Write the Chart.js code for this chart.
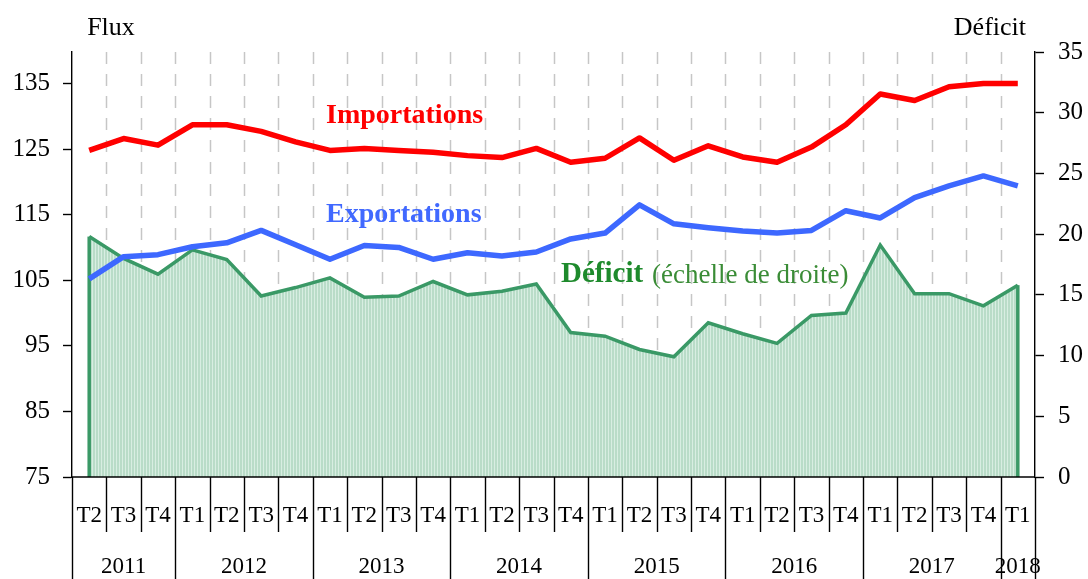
<!DOCTYPE html>
<html>
<head>
<meta charset="utf-8">
<title>Flux et déficit</title>
<script src="https://cdn.jsdelivr.net/npm/chart.js@4.4.1/dist/chart.umd.min.js"></script>
<style>
  html, body { margin: 0; padding: 0; background: #fff; }
  #wrap { width: 1088px; height: 579px; position: relative; }
</style>
</head>
<body>
<div id="wrap"><canvas id="fluxChart"></canvas></div>
<script>
// quarters from T2 2011 to T1 2018
const quarterLabels = ['T2','T3','T4','T1','T2','T3','T4','T1','T2','T3','T4','T1','T2','T3','T4',
                       'T1','T2','T3','T4','T1','T2','T3','T4','T1','T2','T3','T4','T1'];
const yearLabels = ['2011','2012','2013','2014','2015','2016','2017','2018'];
const quartersPerYear = [3, 4, 4, 4, 4, 4, 4, 1];

const importations = [124.8, 126.6, 125.6, 128.7, 128.7, 127.7, 126.1, 124.8, 125.1, 124.8, 124.5, 124.0, 123.7, 125.1,
                      123.0, 123.6, 126.7, 123.3, 125.5, 123.8, 123.0, 125.3, 128.7, 133.4, 132.4, 134.5, 135.0, 135.0];
const exportations = [105.2, 108.6, 108.9, 110.1, 110.7, 112.6, 110.4, 108.2, 110.3, 110.0, 108.2, 109.2, 108.7, 109.3,
                      111.3, 112.2, 116.5, 113.6, 113.0, 112.5, 112.2, 112.6, 115.6, 114.5, 117.6, 119.4, 120.9, 119.4];
const deficit = [19.8, 18.0, 16.7, 18.7, 17.9, 14.9, 15.6, 16.4, 14.8, 14.9, 16.1, 15.0, 15.3, 15.9,
                 11.9, 11.6, 10.5, 9.9, 12.7, 11.8, 11.0, 13.3, 13.5, 19.1, 15.1, 15.1, 14.1, 15.8];

const fluxTicks = [75, 85, 95, 105, 115, 125, 135];
const deficitTicks = [0, 5, 10, 15, 20, 25, 30, 35];

const serif = "'Liberation Serif', 'Times New Roman', serif";

const canvas = document.getElementById('fluxChart');
const ctx = canvas.getContext('2d');

// striped light green fill like the original area
function stripedFill() {
    const c = document.createElement('canvas');
    c.width = 3; c.height = 4;
    const g = c.getContext('2d');
    g.fillStyle = '#b9dcc8';
    g.fillRect(0, 0, 3, 4);
    g.fillStyle = '#d8eee2';
    g.fillRect(2, 0, 1, 4);
    return ctx.createPattern(c, 'repeat');
}

function line(c, x1, y1, x2, y2) {
    c.beginPath();
    c.moveTo(x1, y1);
    c.lineTo(x2, y2);
    c.stroke();
}

const decorPlugin = {
    id: 'decor',
    beforeDatasetsDraw(chart) {
        // dashed separators between quarters
        const { ctx, chartArea, scales: { x } } = chart;
        const half = (x.getPixelForValue(1) - x.getPixelForValue(0)) / 2;
        ctx.save();
        ctx.strokeStyle = '#c6c6c6';
        ctx.lineWidth = 1.5;
        ctx.setLineDash([12, 10]);
        for (let i = 1; i < quarterLabels.length; i++) {
            const px = Math.round(x.getPixelForValue(i) - half) + 0.5;
            line(ctx, px, chartArea.top, px, chartArea.bottom);
        }
        ctx.restore();
    },
    afterDatasetDraw(chart, args) {
        // vertical edges of the deficit area
        if (args.index !== 2) return;
        const { ctx, chartArea } = chart;
        const pts = args.meta.data;
        ctx.save();
        ctx.strokeStyle = '#3a9966';
        ctx.lineWidth = 3.5;
        [pts[0], pts[pts.length - 1]].forEach(p => line(ctx, p.x, p.y, p.x, chartArea.bottom));
        ctx.restore();
    },
    afterDraw(chart) {
        const { ctx, chartArea, scales: { x } } = chart;
        const n = quarterLabels.length;
        const half = (x.getPixelForValue(1) - x.getPixelForValue(0)) / 2;
        const bottom = chartArea.bottom;
        const H = chart.height;
        ctx.save();

        // category axis line and separators
        ctx.strokeStyle = '#000';
        ctx.lineWidth = 1.4;
        line(ctx, chartArea.left, bottom, chartArea.right, bottom);
        const yearStarts = new Set([0]);
        let acc = 0;
        quartersPerYear.forEach(q => { acc += q; yearStarts.add(acc); });
        for (let i = 0; i <= n; i++) {
            const px = Math.round(i < n ? x.getPixelForValue(i) - half : x.getPixelForValue(n - 1) + half) + 0.5;
            line(ctx, px, bottom, px, yearStarts.has(i) ? H : bottom + 55);
        }

        // quarter and year labels
        ctx.fillStyle = '#000';
        ctx.textAlign = 'center';
        ctx.textBaseline = 'middle';
        ctx.font = '23px ' + serif;
        quarterLabels.forEach((q, i) => ctx.fillText(q, x.getPixelForValue(i), bottom + 39));
        let start = 0;
        yearLabels.forEach((y, k) => {
            const end = start + quartersPerYear[k] - 1;
            const cx = (x.getPixelForValue(start) + x.getPixelForValue(end)) / 2;
            ctx.fillText(y, cx, bottom + 90);
            start = end + 1;
        });

        // axis titles
        ctx.textBaseline = 'alphabetic';
        ctx.font = '26px ' + serif;
        ctx.textAlign = 'center';
        ctx.fillText('Flux', 111, 35);
        ctx.textAlign = 'right';
        ctx.fillText('Déficit', 1026, 35);

        // series annotations
        ctx.textAlign = 'left';
        ctx.font = 'bold 28px ' + serif;
        ctx.fillStyle = '#ff0000';
        ctx.fillText('Importations', 326, 123);
        ctx.fillStyle = '#4169ff';
        ctx.fillText('Exportations', 326, 222);
        ctx.font = 'bold 29px ' + serif;
        ctx.fillStyle = '#1e8a2c';
        ctx.fillText('Déficit', 561, 282);
        ctx.font = '27px ' + serif;
        ctx.fillStyle = '#3a8c36';
        ctx.fillText('(échelle de droite)', 652, 283);

        ctx.restore();
    }
};

new Chart(ctx, {
    type: 'line',
    data: {
        labels: quarterLabels,
        datasets: [
            {
                label: 'Importations',
                data: importations,
                yAxisID: 'y',
                borderColor: '#ff0000',
                borderWidth: 5.5,
                pointRadius: 0,
                tension: 0,
                borderJoinStyle: 'round',
                fill: false,
                order: 0
            },
            {
                label: 'Exportations',
                data: exportations,
                yAxisID: 'y',
                borderColor: '#3d68ff',
                borderWidth: 5.5,
                pointRadius: 0,
                tension: 0,
                borderJoinStyle: 'round',
                fill: false,
                order: 1
            },
            {
                label: 'Déficit',
                data: deficit,
                yAxisID: 'y1',
                borderColor: '#3a9966',
                backgroundColor: stripedFill(),
                borderWidth: 3.5,
                pointRadius: 0,
                tension: 0,
                fill: 'origin',
                order: 2
            }
        ]
    },
    options: {
        responsive: true,
        maintainAspectRatio: false,
        animation: false,
        layout: { padding: { top: 52, bottom: 102, left: 0, right: 0 } },
        plugins: {
            legend: { display: false },
            tooltip: { enabled: false }
        },
        scales: {
            x: {
                type: 'category',
                offset: true,
                display: false
            },
            y: {
                position: 'left',
                min: 75,
                max: 139.8,
                afterBuildTicks: scale => { scale.ticks = fluxTicks.map(v => ({ value: v })); },
                afterFit: scale => { scale.width = 72; },
                grid: { drawOnChartArea: false, tickLength: 9, tickColor: '#000', tickWidth: 1.4 },
                border: { color: '#000', width: 1.4 },
                ticks: { color: '#000', padding: 13, font: { family: serif, size: 25 } }
            },
            y1: {
                position: 'right',
                min: 0,
                max: 35,
                afterBuildTicks: scale => { scale.ticks = deficitTicks.map(v => ({ value: v })); },
                afterFit: scale => { scale.width = 53; },
                grid: { drawOnChartArea: false, tickLength: 9, tickColor: '#000', tickWidth: 1.4 },
                border: { color: '#000', width: 1.4 },
                ticks: { color: '#000', padding: 14, font: { family: serif, size: 25 } }
            }
        }
    },
    plugins: [decorPlugin]
});
</script>
</body>
</html>
